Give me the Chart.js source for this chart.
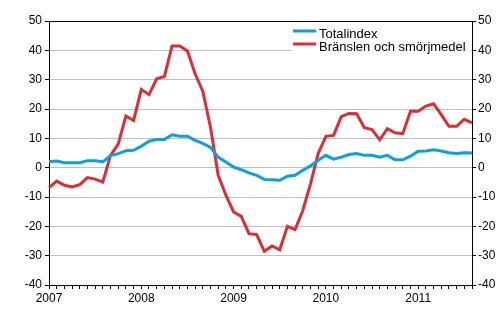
<!DOCTYPE html>
<html>
<head>
<meta charset="utf-8">
<script src="https://cdn.jsdelivr.net/npm/chart.js@4/dist/chart.umd.min.js"></script>
<style>
  html, body { margin: 0; padding: 0; background: #fff; }
  #wrap { width: 500px; height: 330px; }
</style>
</head>
<body>
<div id="wrap"><canvas id="c" width="500" height="330"></canvas></div>
<script>
// Monthly categories: Jan 2007 .. Aug 2011
const years = [2007, 2008, 2009, 2010, 2011];
const monthsInLastYear = 8;
const categories = [];
years.forEach((y, i) => {
  const n = i === years.length - 1 ? monthsInLastYear : 12;
  for (let m = 1; m <= n; m++) categories.push(y + 'M' + String(m).padStart(2, '0'));
});

const seriesNames = ['Totalindex', 'Bränslen och smörjmedel'];

const totalindex = [
  2.0, 2.3, 1.7, 1.7, 1.7, 2.4, 2.4, 2.0, 4.1, 4.8, 5.8, 5.9,
  7.3, 9.0, 9.6, 9.6, 11.2, 10.7, 10.7, 9.3, 8.3, 6.9, 3.6, 1.9,
  0.2, -0.7, -1.8, -2.6, -4.0, -4.1, -4.3, -2.9, -2.6, -0.9, 0.6, 2.5,
  4.2, 2.9, 3.6, 4.5, 4.8, 4.2, 4.2, 3.6, 4.2, 2.7, 2.7, 3.9,
  5.6, 5.7, 6.1, 5.7, 5.1, 4.8, 5.1, 5.0
];

const branslen = [
  -6.8, -4.6, -6.0, -6.6, -5.8, -3.4, -3.9, -4.9, 4.2, 8.0, 17.6, 16.1,
  26.7, 24.9, 30.3, 31.1, 41.5, 41.5, 39.8, 32.0, 26.0, 13.8, -2.6, -9.4,
  -15.1, -16.6, -22.5, -22.8, -28.5, -26.7, -28.0, -20.0, -21.1, -14.6, -5.5, 4.8,
  10.7, 11.0, 17.4, 18.5, 18.4, 13.6, 13.0, 9.5, 13.3, 11.9, 11.6, 19.2,
  19.2, 21.0, 21.8, 18.1, 14.1, 14.1, 16.5, 15.3
];

const yTicks = [-40, -30, -20, -10, 0, 10, 20, 30, 40, 50];
const colors = ['#0aa0e2', '#dd2d33'];

const FONT = "'Liberation Sans', Arial, sans-serif";

const legendPlugin = {
  id: 'insideLegend',
  beforeDatasetsDraw(chart) {
    const ctx = chart.ctx;
    ctx.save();
    ctx.fillStyle = '#fff';
    ctx.fillRect(292, 23, 178, 30);
    ctx.lineWidth = 3;
    ctx.font = '13px ' + FONT;
    ctx.textBaseline = 'alphabetic';
    ctx.textAlign = 'left';
    const rows = [{y: 31, t: 38}, {y: 44, t: 51}];
    seriesNames.forEach((name, i) => {
      ctx.strokeStyle = colors[i];
      ctx.beginPath();
      ctx.moveTo(293, rows[i].y);
      ctx.lineTo(316, rows[i].y);
      ctx.stroke();
      ctx.fillStyle = '#000';
      ctx.fillText(name, 319, rows[i].t);
    });
    ctx.restore();
  }
};

new Chart(document.getElementById('c'), {
  type: 'line',
  data: {
    labels: categories,
    datasets: [
      { label: seriesNames[0], data: totalindex, borderColor: colors[0], borderWidth: 3, pointRadius: 0, tension: 0, fill: false, yAxisID: 'y' },
      { label: seriesNames[1], data: branslen, borderColor: colors[1], borderWidth: 3, pointRadius: 0, tension: 0, fill: false, yAxisID: 'y' }
    ]
  },
  options: {
    responsive: false,
    animation: false,
    layout: { padding: { top: 21, left: 0, right: 0, bottom: 0 } },
    plugins: { legend: { display: false }, tooltip: { enabled: false } },
    scales: {
      x: {
        type: 'category',
        offset: false,
        afterFit(s) { s.height = 45; },
        border: { display: true, color: '#000', width: 1 },
        grid: { display: true, drawOnChartArea: false, drawTicks: true, tickLength: 4, tickColor: '#000', color: '#000' },
        ticks: {
          autoSkip: false, maxRotation: 0, minRotation: 0, padding: 2,
          color: '#000', font: { family: FONT, size: 12 },
          callback(v, i) { return i % 12 === 0 ? categories[i].slice(0, 4) : ''; }
        }
      },
      y: {
        position: 'left', min: -40, max: 50,
        afterFit(s) { s.width = 49; },
        afterBuildTicks(s) { s.ticks = yTicks.map(v => ({ value: v })); },
        border: { display: true, color: '#000', width: 1 },
        grid: {
          drawOnChartArea: true, drawTicks: true, tickLength: 4, tickColor: '#000',
          color(c) { const v = c.tick && c.tick.value; return (v === 50 || v === -40) ? '#000' : '#c0c0c0'; }
        },
        ticks: { padding: 3, color: '#000', font: { family: FONT, size: 12 } }
      },
      y2: {
        position: 'right', min: -40, max: 50,
        afterFit(s) { s.width = 28; },
        afterBuildTicks(s) { s.ticks = yTicks.map(v => ({ value: v })); },
        border: { display: true, color: '#000', width: 1 },
        grid: { drawOnChartArea: false, drawTicks: true, tickLength: 4, tickColor: '#000', color: '#000' },
        ticks: { padding: 2, color: '#000', font: { family: FONT, size: 12 } }
      }
    }
  },
  plugins: [legendPlugin]
});
</script>
</body>
</html>
